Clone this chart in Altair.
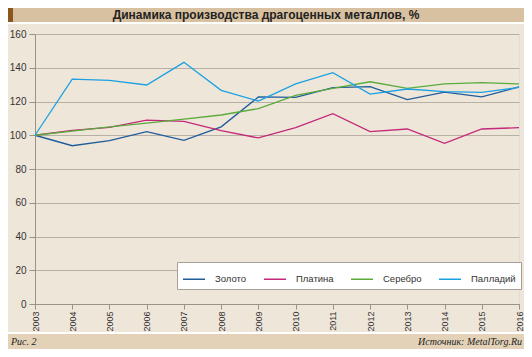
import altair as alt
import pandas as pd

years = list(range(2003, 2017))
series_names = ["Золото", "Платина", "Серебро", "Палладий"]
gold = [100, 93.8, 96.8, 102.1, 97.0, 105.0, 122.7, 122.5, 128.2, 128.8, 121.1, 125.6, 122.7, 128.6]
platinum = [100, 102.9, 104.7, 109.0, 108.2, 102.7, 98.4, 104.5, 112.8, 102.1, 103.7, 95.2, 103.7, 104.5]
silver = [100, 102.5, 105.0, 107.2, 109.6, 112.0, 115.8, 123.6, 127.8, 131.7, 127.8, 130.4, 131.2, 130.4]
palladium = [100, 133.3, 132.5, 129.8, 143.2, 126.6, 120.3, 130.4, 137.1, 124.4, 127.4, 125.8, 125.4, 128.4]
colors = ["#1f5c9c", "#c4287a", "#5aab3c", "#1ba1e2"]
y_ticks = [0, 20, 40, 60, 80, 100, 120, 140, 160]
title_text = "Динамика производства драгоценных металлов, %"
fig_label = "Рис. 2"
source_text = "Источник: MetalTorg.Ru"

rows = []
for name, vals in zip(series_names, [gold, platinum, silver, palladium]):
    for y, v in zip(years, vals):
        rows.append({"year": y, "value": v, "metal": name})
df = pd.DataFrame(rows)

W, H = 484, 270
one = pd.DataFrame({"k": [0]})

lines = alt.Chart(df).mark_line(strokeWidth=1.3).encode(
    x=alt.X("year:Q", scale=alt.Scale(domain=[2003, 2016], nice=False, zero=False),
            axis=alt.Axis(values=years, format="d", labelAngle=-90, grid=False, title=None,
                          labelFontSize=9, labelColor="#333333", tickColor="#9a9288",
                          domainColor="#9a9288", tickSize=5, labelPadding=2,
                          labelBaseline="middle", labelAlign="right")),
    y=alt.Y("value:Q", scale=alt.Scale(domain=[0, 160], nice=False),
            axis=alt.Axis(values=y_ticks, title=None, grid=True, gridColor="#b8b0a4",
                          labelFontSize=10, labelColor="#333333", tickColor="#9a9288",
                          domainColor="#9a9288", tickSize=6, labelPadding=3)),
    color=alt.Color("metal:N", scale=alt.Scale(domain=series_names, range=colors),
                    legend=alt.Legend(title=None, orient="none", legendX=142, legendY=228,
                                      direction="horizontal", symbolType="stroke",
                                      symbolSize=484, symbolStrokeWidth=1.5,
                                      labelFontSize=9.5, labelColor="#333333",
                                      fillColor="white", strokeColor="#a8a098",
                                      padding=5, columnPadding=14, labelOffset=9)),
)

title_bar = alt.Chart(one).mark_rect(color="#d8c1a0", clip=False).encode(
    x=alt.value(-27), x2=alt.value(489), y=alt.value(-26), y2=alt.value(-12))
strip = alt.Chart(one).mark_rect(color="#8a561e", clip=False).encode(
    x=alt.value(-27), x2=alt.value(-22), y=alt.value(-26), y2=alt.value(-12))
white_line = alt.Chart(one).mark_rect(color="#ffffff", clip=False).encode(
    x=alt.value(-27), x2=alt.value(489), y=alt.value(-12), y2=alt.value(-10))
title = alt.Chart(one).mark_text(fontSize=12, fontWeight="bold", font="Liberation Sans",
                                  color="#222222", clip=False).encode(
    x=alt.value(231), y=alt.value(-19), text=alt.value(title_text))
footer_white = alt.Chart(one).mark_rect(color="#ffffff", clip=False).encode(
    x=alt.value(-27), x2=alt.value(489), y=alt.value(298), y2=alt.value(300))
footer = alt.Chart(one).mark_rect(color="#e3d2b8", clip=False).encode(
    x=alt.value(-27), x2=alt.value(489), y=alt.value(300), y2=alt.value(315))
f_left = alt.Chart(one).mark_text(fontSize=10, fontStyle="italic", font="Liberation Serif",
                                   color="#222222", align="left", clip=False).encode(
    x=alt.value(-24), y=alt.value(308), text=alt.value(fig_label))
f_right = alt.Chart(one).mark_text(fontSize=10, fontStyle="italic", font="Liberation Serif",
                                    color="#222222", align="right", clip=False).encode(
    x=alt.value(487), y=alt.value(308), text=alt.value(source_text))

chart = alt.layer(title_bar, strip, white_line, title, footer_white, footer, f_left, f_right, lines).properties(
    width=W, height=H,
    background="#efe6da",
    padding={"left": 27, "top": 26, "right": 5, "bottom": 45},
    autosize=alt.AutoSizeParams(type="none"),
).configure_view(fill="#f7f3ec", stroke="#9a9288", strokeWidth=1).configure(
    font="Liberation Sans")

chart.save("out.html", embed_options={"renderer": "svg", "actions": False})
